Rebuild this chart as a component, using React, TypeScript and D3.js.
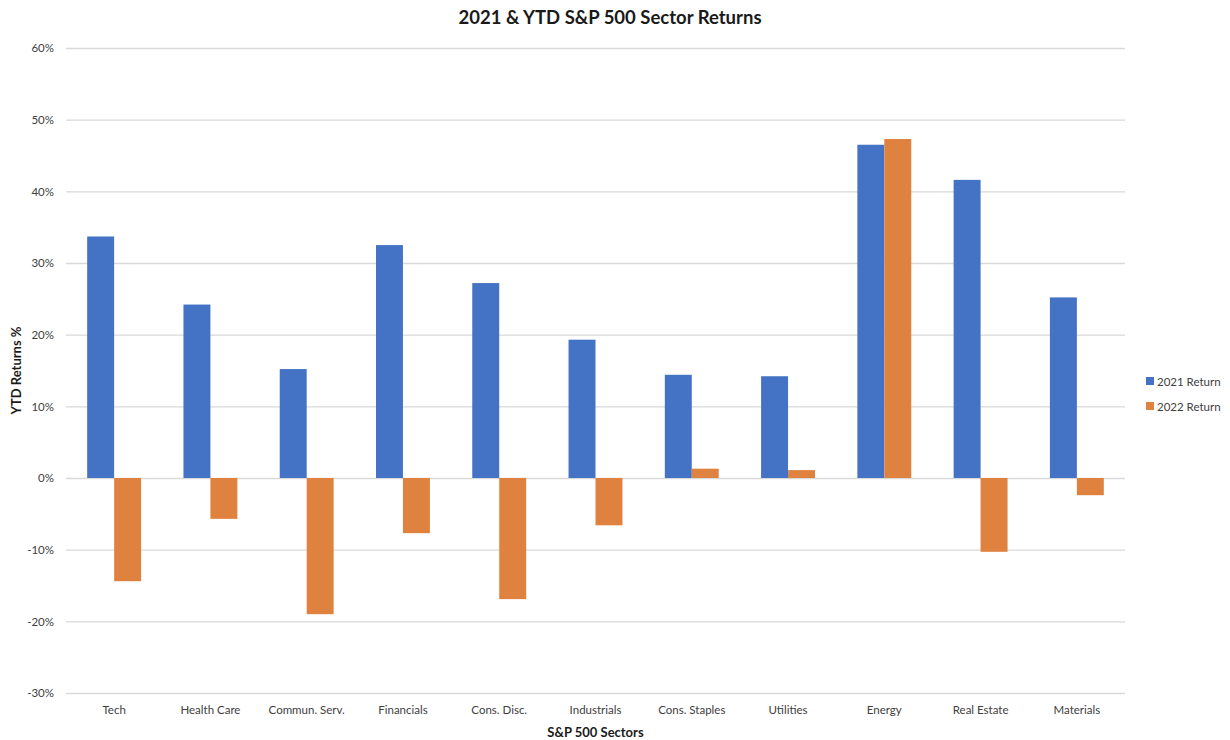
import React, { useRef, useEffect } from "react";
import { select, scaleLinear, scaleBand, axisLeft, axisBottom } from "d3";

const sectors = [
  "Tech",
  "Health Care",
  "Commun. Serv.",
  "Financials",
  "Cons. Disc.",
  "Industrials",
  "Cons. Staples",
  "Utilities",
  "Energy",
  "Real Estate",
  "Materials",
];
const return2021 = [33.7, 24.2, 15.2, 32.5, 27.2, 19.3, 14.4, 14.2, 46.5, 41.6, 25.2];
const return2022 = [-14.4, -5.7, -19.0, -7.7, -16.9, -6.6, 1.3, 1.1, 47.3, -10.3, -2.4];
const seriesNames = ["2021 Return", "2022 Return"];
const yTicks = [-30, -20, -10, 0, 10, 20, 30, 40, 50, 60];

const colors = ["#4472C4", "#E0823F"];
const font = "Lato, 'Open Sans', sans-serif";

function App() {
  const d3Element = useRef<SVGSVGElement | null>(null);

  const renderD3 = () => {
    const svg = select(d3Element.current);
    svg.selectAll("*").remove();

    const margin = { top: 48, right: 105, bottom: 47, left: 66 };
    const width = 1230;
    const height = 740;
    const innerWidth = width - margin.left - margin.right;
    const innerHeight = height - margin.top - margin.bottom;

    const xScale = scaleBand()
      .domain(sectors)
      .range([0, innerWidth])
      .paddingInner(0.44)
      .paddingOuter(0.22);

    const xSub = scaleBand()
      .domain(seriesNames)
      .range([0, xScale.bandwidth()]);

    const yScale = scaleLinear().domain([-30, 60]).range([innerHeight, 0]);

    const g = svg
      .append("g")
      .attr("transform", `translate(${margin.left},${margin.top})`);

    // gridlines + y ticks
    const yAxisG = g
      .append("g")
      .call(
        axisLeft(yScale)
          .tickValues(yTicks)
          .tickSize(-innerWidth)
          .tickFormat((d) => `${d}%`)
      );
    yAxisG.select(".domain").remove();
    yAxisG.selectAll("line").attr("stroke", "#d9d9d9").attr("stroke-width", 1.3);
    yAxisG
      .selectAll("text")
      .attr("x", -12)
      .attr("fill", "#404040")
      .style("font-family", font)
      .style("font-size", "11.5px");

    const rows = sectors.map((s, i) => ({
      sector: s,
      values: [return2021[i], return2022[i]],
    }));

    const groups = g
      .selectAll("g.grp")
      .data(rows)
      .enter()
      .append("g")
      .attr("class", "grp")
      .attr("transform", (d) => `translate(${xScale(d.sector)},0)`);

    groups
      .selectAll("rect")
      .data((d) => d.values.map((v, j) => ({ v, name: seriesNames[j], j })))
      .enter()
      .append("rect")
      .attr("x", (d) => xSub(d.name) as number)
      .attr("width", xSub.bandwidth())
      .attr("y", (d) => yScale(Math.max(0, d.v)))
      .attr("height", (d) => Math.abs(yScale(d.v) - yScale(0)))
      .attr("fill", (d) => colors[d.j]);

    // x axis labels
    const xAxisG = g
      .append("g")
      .attr("transform", `translate(0,${innerHeight})`)
      .call(axisBottom(xScale).tickSize(0));
    xAxisG.select(".domain").remove();
    xAxisG
      .selectAll("text")
      .attr("dy", "1.55em")
      .attr("fill", "#404040")
      .style("font-family", font)
      .style("font-size", "11.5px");

    // title
    svg
      .append("text")
      .attr("x", 610)
      .attr("y", 24)
      .attr("text-anchor", "middle")
      .style("font-family", font)
      .style("font-size", "18.5px")
      .style("font-weight", "bold")
      .attr("fill", "#1a1a1a")
      .text("2021 & YTD S&P 500 Sector Returns");

    svg
      .append("text")
      .attr("x", margin.left + innerWidth / 2)
      .attr("y", 737)
      .attr("text-anchor", "middle")
      .style("font-family", font)
      .style("font-size", "13px")
      .style("font-weight", "bold")
      .attr("fill", "#1a1a1a")
      .text("S&P 500 Sectors");

    svg
      .append("text")
      .attr("transform", `translate(21,${margin.top + innerHeight / 2}) rotate(-90)`)
      .attr("text-anchor", "middle")
      .style("font-family", font)
      .style("font-size", "13px")
      .style("font-weight", "bold")
      .attr("fill", "#1a1a1a")
      .text("YTD Returns %");

    // legend
    const legend = svg
      .selectAll("g.legend")
      .data(seriesNames)
      .enter()
      .append("g")
      .attr("class", "legend")
      .attr("transform", (d, i) => `translate(1146,${377 + i * 25})`);
    legend
      .append("rect")
      .attr("width", 8)
      .attr("height", 8)
      .attr("fill", (d, i) => colors[i]);
    legend
      .append("text")
      .attr("x", 11)
      .attr("y", 8.5)
      .style("font-family", font)
      .style("font-size", "11.5px")
      .attr("fill", "#404040")
      .text((d) => d);
  };

  useEffect(() => {
    renderD3();
  });

  return (
    <div>
      <svg
        ref={d3Element}
        width="1230"
        height="740"
        style={{ position: "absolute", left: 0, top: 0, background: "#fff" }}
      ></svg>
    </div>
  );
}

export default App;
